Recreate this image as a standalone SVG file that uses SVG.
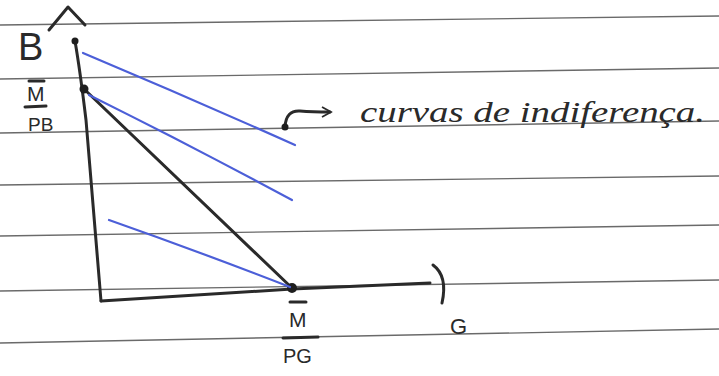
<svg xmlns="http://www.w3.org/2000/svg" width="719" height="376" viewBox="0 0 719 376">
<style>
.rule{stroke:#6a6a6a;stroke-width:1.4;fill:none}
.ink{stroke:#2a2a2a;stroke-width:3;fill:none;stroke-linecap:round;stroke-linejoin:round}
.blue{stroke:#4c5fd8;stroke-width:2.2;fill:none;stroke-linecap:round}
.hand{font-family:"Liberation Serif",serif;font-style:italic;fill:#2a2a2a}
.lbl{font-family:"Liberation Sans",sans-serif;fill:#2a2a2a}
.dot{fill:#1e1e1e}
</style>
<defs>
<marker id="openhead" markerWidth="14" markerHeight="14" refX="10" refY="7" orient="auto" markerUnits="userSpaceOnUse">
<path d="M2,2 L11,7 L2,12" fill="none" stroke="#2a2a2a" stroke-width="1.8"/>
</marker>
</defs>
<rect width="719" height="376" fill="#ffffff"/>
<g id="paper-lines">
<line class="rule" x1="0" y1="25" x2="719" y2="16"/>
<line class="rule" x1="0" y1="79" x2="719" y2="68"/>
<line class="rule" x1="0" y1="133" x2="719" y2="121"/>
<line class="rule" x1="0" y1="185" x2="719" y2="176"/>
<line class="rule" x1="0" y1="236" x2="719" y2="225"/>
<line class="rule" x1="0" y1="291" x2="719" y2="280"/>
<line class="rule" x1="0" y1="343" x2="719" y2="329"/>
</g>
<g id="axes">
<path class="ink" d="M75,41 Q80,70 86,120 Q93,200 101,301"/>
<path class="ink" d="M101,301 L292,289 L430,283"/>
<path class="ink" stroke-width="2.4" d="M49,30 L68,7 L85,25"/>
<path class="ink" stroke-width="2.4" d="M433,265 Q448,276 442,303"/>
</g>
<g id="budget-line">
<line class="ink" x1="84" y1="89" x2="292" y2="288"/>
<circle class="dot" cx="75" cy="41" r="3.5"/>
<circle class="dot" cx="84" cy="89" r="4.5"/>
<circle class="dot" cx="292" cy="288" r="5"/>
</g>
<g id="indifference-curves">
<path class="blue" d="M83,53 Q190,98 295,145"/>
<path class="blue" d="M89,95 Q190,145 292,200"/>
<path class="blue" d="M109,220 Q200,252 290,287"/>
</g>
<g id="label-B">
<text class="lbl" x="18" y="60" font-size="38">B</text>
</g>
<g id="label-M-PB">
<line class="ink" stroke-width="1.6" x1="29" y1="81" x2="44" y2="81"/>
<text class="lbl" x="27" y="101" font-size="21">M</text>
<line class="ink" stroke-width="2" x1="25" y1="107" x2="46" y2="106"/>
<text class="lbl" x="28" y="131" font-size="19">PB</text>
</g>
<g id="label-M-PG">
<line class="ink" stroke-width="1.6" x1="290" y1="302" x2="306" y2="302"/>
<text class="lbl" x="289" y="327" font-size="21">M</text>
<line class="ink" stroke-width="2" x1="283" y1="338" x2="318" y2="337"/>
<text class="lbl" x="283" y="363" font-size="20">PG</text>
</g>
<g id="label-G">
<text class="lbl" x="450" y="334" font-size="22">G</text>
</g>
<g id="label-curves">
<text class="hand" x="360" y="122" font-size="30" textLength="345" lengthAdjust="spacingAndGlyphs">curvas de indiferença.</text>
</g>
<g id="connectors">
<path class="ink" stroke-width="2.2" d="M285,127 Q286,110 300,111 Q312,112 330,112" marker-end="url(#openhead)"/>
<circle class="dot" cx="285" cy="127" r="3.5"/>
</g>
</svg>
